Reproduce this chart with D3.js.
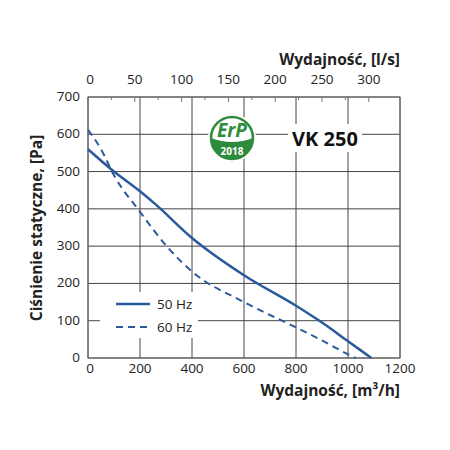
<!DOCTYPE html><html><head><meta charset="utf-8"><script src="https://cdn.jsdelivr.net/npm/d3@7"></script>
<style>body{margin:0;background:#fff}text{font-family:"Open Sans",sans-serif}</style></head><body><svg id="c" width="450" height="450"></svg><script>
const xTicks=[0,200,400,600,800,1000,1200];
const yTicks=[0,100,200,300,400,500,600,700];
const topTicks=[0,50,100,150,200,250,300];
const hz50=[[0,560],[100,500],[200,447],[260,412],[400,322],[600,222],[800,140],[900,95],[1000,45],[1090,0]];
const hz60=[[0,612],[50,560],[100,490],[200,392],[300,302],[400,232],[600,150],[800,82],[900,47],[1000,10],[1030,0]];
const svg=d3.select("#c");
const x=d3.scaleLinear().domain([0,1200]).range([88,400]);
const y=d3.scaleLinear().domain([0,700]).range([358,97]);
const g=svg.append("g");
g.selectAll(".v").data(xTicks).join("line").attr("x1",d=>x(d)).attr("x2",d=>x(d)).attr("y1",97).attr("y2",358).attr("stroke","#444").attr("stroke-width",1);
g.selectAll(".h").data(yTicks).join("line").attr("y1",d=>y(d)).attr("y2",d=>y(d)).attr("x1",88).attr("x2",400).attr("stroke","#444").attr("stroke-width",1);
svg.append("rect").attr("x",88).attr("y",97).attr("width",312).attr("height",261).attr("fill","none").attr("stroke","#666").attr("stroke-width",1);
svg.append("rect").attr("x",100).attr("y",292).attr("width",98).attr("height",46).attr("fill","#fff");
const xt=d3.scaleLinear().domain([0,300]).range([x(0),x(1080)]);
svg.selectAll(".tt").data(d3.range(0,301,25)).join("line").attr("x1",d=>xt(d)).attr("x2",d=>xt(d)).attr("y1",97).attr("y2",d=>d%50?100:102).attr("stroke","#777");
const line=d3.line().x(d=>x(d[0])).y(d=>y(d[1])).curve(d3.curveMonotoneX);
svg.append("path").attr("d",line(hz50)).attr("fill","none").attr("stroke","#2a5a9a").attr("stroke-width",2.5);
svg.append("path").attr("d",line(hz60)).attr("fill","none").attr("stroke","#2a5a9a").attr("stroke-width",2).attr("stroke-dasharray","7,5");
const tf=13.5;
svg.selectAll(".xl").data(xTicks).join("text").attr("x",d=>x(d)+(d==0?2:0)).attr("y",373).attr("text-anchor","middle").attr("font-size",tf).attr("fill","#222").text(d=>d);
svg.selectAll(".yl").data(yTicks).join("text").attr("x",80).attr("y",d=>y(d)+4).attr("text-anchor","end").attr("font-size",tf).attr("fill","#222").text(d=>d);
svg.selectAll(".tl").data(topTicks).join("text").attr("x",d=>xt(d)+(d==0?2:0)).attr("y",84).attr("text-anchor","middle").attr("font-size",tf).attr("fill","#222").text(d=>d);
svg.append("text").attr("x",400).attr("y",65).attr("text-anchor","end").attr("font-size",15.5).attr("font-weight","bold").attr("fill","#222").text("Wydajność, [l/s]");
svg.append("text").attr("x",400).attr("y",396).attr("text-anchor","end").attr("font-size",15.5).attr("font-weight","bold").attr("fill","#222").text("Wydajność, [m³/h]");
svg.append("text").attr("transform","translate(42,228) rotate(-90)").attr("text-anchor","middle").attr("font-size",15.5).attr("font-weight","bold").attr("fill","#222").text("Ciśnienie statyczne, [Pa]");
svg.append("line").attr("x1",116).attr("x2",150).attr("y1",304).attr("y2",304).attr("stroke","#2a5a9a").attr("stroke-width",2.5);
svg.append("line").attr("x1",116).attr("x2",150).attr("y1",327).attr("y2",327).attr("stroke","#2a5a9a").attr("stroke-width",2).attr("stroke-dasharray","7,5");
svg.append("text").attr("x",157).attr("y",309).attr("font-size",13.5).attr("fill","#222").text("50 Hz");
svg.append("text").attr("x",157).attr("y",332).attr("font-size",13.5).attr("fill","#222").text("60 Hz");
const lg=svg.append("g").attr("transform","translate(232,138)");
lg.append("circle").attr("r",24).attr("fill","#fff");
lg.append("circle").attr("r",21).attr("fill","#fff").attr("stroke","#2e8b3c").attr("stroke-width",2.5);
lg.append("path").attr("d","M-21,0 Q0,8 21,0 A21,21 0 0 1 -21,0Z").attr("fill","#2e8b3c");
lg.append("text").attr("x",0).attr("y",-1).attr("text-anchor","middle").attr("font-size",19).attr("font-weight","bold").attr("font-style","italic").attr("fill","#2e8b3c").text("ErP");
lg.append("text").attr("x",0).attr("y",17).attr("text-anchor","middle").attr("font-size",10).attr("font-weight","bold").attr("fill","#fff").text("2018");
svg.append("rect").attr("x",288).attr("y",124).attr("width",74).attr("height",28).attr("fill","#fff");
svg.append("text").attr("x",325).attr("y",146).attr("text-anchor","middle").attr("font-size",20).attr("font-weight","bold").attr("fill","#111").text("VK 250");
</script></body></html>
